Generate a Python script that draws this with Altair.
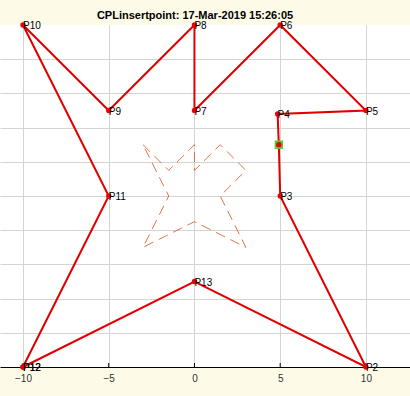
import altair as alt
import pandas as pd

# Main closed polyline (vertex order), labels
pt_labels = ["P12", "P13", "P2", "P3", "", "P4", "P5", "P6", "P7", "P8", "P9", "P10", "P11", "P12"]
pt_x = [-10, 0, 10, 5, 4.92, 4.85, 10, 5, 0, 0, -5, -10, -5, -10]
pt_y = [0, 5, 0, 10, 13, 14.8, 15, 20, 15, 20, 15, 20, 10, 0]

# Inserted point
ins_x = [4.92]
ins_y = [13]

# Dashed star outline
star_x = [-3, -1.5, 0, 0, 1.5, 3, 1.5, 3, 0, -3, -1.5, -3]
star_y = [13, 11.5, 13, 11.5, 13, 11.5, 10, 7, 8.5, 7, 10, 13]

x_ticks = [-10, -5, 0, 5, 10]
y_grid = [2, 4, 6, 8, 10, 12, 14, 16, 18]

main = pd.DataFrame({"x": pt_x, "y": pt_y, "label": pt_labels, "i": range(len(pt_x))})
star = pd.DataFrame({"x": star_x, "y": star_y, "i": range(len(star_x))})
ins = pd.DataFrame({"x": ins_x, "y": ins_y})
ticks = pd.DataFrame({"x": x_ticks})

xs = alt.Scale(domain=[-11.34, 12.57], nice=False, zero=False)
ys = alt.Scale(domain=[0, 20], nice=False, zero=False)

X = alt.X("x:Q", scale=xs, axis=alt.Axis(values=x_ticks, title=None, grid=True, gridColor="#d4d4d4",
                                            domainColor="#000000", domainWidth=1, ticks=False,
                                            labelFontSize=10, labelColor="#333333", labelPadding=6,
                                            labelFont="Liberation Sans"))
Y = alt.Y("y:Q", scale=ys, axis=alt.Axis(values=y_grid, title=None, grid=True, gridColor="#d4d4d4",
                                            domain=False, ticks=False, labels=False))

star_line = alt.Chart(star).mark_line(color="#D95319", strokeWidth=1, strokeDash=[10, 6], opacity=0.8).encode(
    x=X, y=Y, order="i:Q")

tick_marks = alt.Chart(ticks).mark_rule(color="#000000", strokeWidth=1).encode(
    x=alt.X("x:Q", scale=xs), y=alt.value(342), y2=alt.value(338))

line = alt.Chart(main).mark_line(color="#e00000", strokeWidth=2).encode(
    x=alt.X("x:Q", scale=xs), y=alt.Y("y:Q", scale=ys), order="i:Q")

green = alt.Chart(ins).mark_square(color="#55cc33", size=70, opacity=1).encode(
    x=alt.X("x:Q", scale=xs), y=alt.Y("y:Q", scale=ys))

pts = alt.Chart(main).mark_circle(color="#ee0000", size=28, opacity=1).encode(
    x=alt.X("x:Q", scale=xs), y=alt.Y("y:Q", scale=ys))

labels = alt.Chart(main).mark_text(align="left", baseline="middle", dx=0, dy=1, fontSize=10,
                                   font="Liberation Sans", color="#000000").encode(
    x=alt.X("x:Q", scale=xs), y=alt.Y("y:Q", scale=ys), text="label:N")

chart = alt.layer(star_line, tick_marks, line, green, pts, labels).properties(
    width=410, height=342,
    autosize=alt.AutoSizeParams(type="none"),
    padding={"left": 0, "top": 25, "right": 0, "bottom": 29},
    background="#fdfbe8",
    title=alt.TitleParams("CPLinsertpoint: 17-Mar-2019 15:26:05", anchor="middle", dx=-10, offset=0,
                          fontSize=11, fontWeight="bold", font="Liberation Sans", color="#000000"),
).configure_view(fill="#ffffff", stroke=None)

chart.save("out.html", embed_options={"renderer": "svg", "actions": False})
